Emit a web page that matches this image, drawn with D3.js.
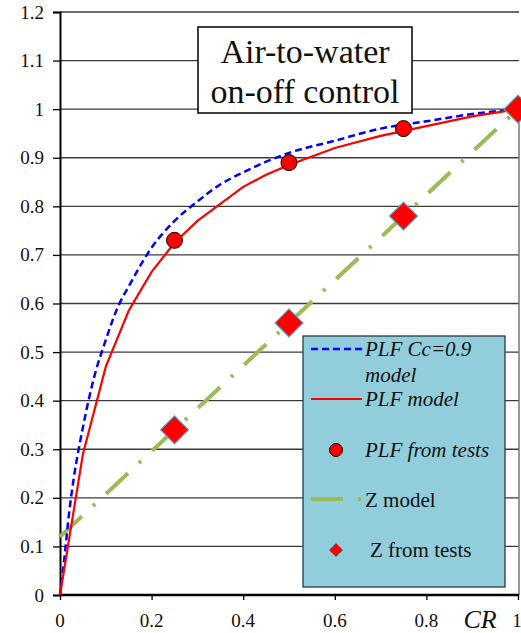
<!DOCTYPE html>
<html><head><meta charset="utf-8">
<script src="https://cdn.jsdelivr.net/npm/d3@7"></script>
</head><body style="margin:0">
<script>
// ---- data ----
const yTicks = [0,0.1,0.2,0.3,0.4,0.5,0.6,0.7,0.8,0.9,1,1.1,1.2];
const xTicks = [0,0.2,0.4,0.6,0.8,1];
const plfModelCR  = [0,0.05,0.1,0.15,0.2,0.25,0.3,0.35,0.4,0.45,0.5,0.6,0.7,0.8,0.9,1];
const plfModelVal = [0,0.29,0.47,0.585,0.665,0.725,0.77,0.805,0.84,0.865,0.885,0.92,0.945,0.965,0.985,1];
const plfCcCR  = [0,0.01,0.02,0.03,0.05,0.075,0.1,0.125,0.15,0.2,0.25,0.3,0.35,0.4,0.5,0.6,0.7,0.8,0.9,1];
const plfCcVal = [0,0.08,0.17,0.24,0.345,0.45,0.525,0.59,0.635,0.715,0.77,0.81,0.845,0.87,0.91,0.935,0.96,0.975,0.99,1];
const zModelCR  = [0,1];
const zModelVal = [0.12,1];
const testCR = [0.25,0.5,0.75,1];
const plfTests = [0.73,0.89,0.96,1];
const zTests = [0.34,0.56,0.78,1];
const titleLines = ["Air-to-water","on-off control"];
const legendLabels = ["PLF Cc=0.9","model","PLF model","PLF from tests","Z model","Z from tests"];

// ---- drawing ----
const W=521,H=633;
const FONT="Liberation Serif";
const svg=d3.select("body").append("svg").attr("width",W).attr("height",H)
  .style("display","block").attr("font-family",FONT);
const x=d3.scaleLinear().domain([0,1]).range([60,518]);
const y=d3.scaleLinear().domain([0,1.2]).range([595,12]);
const fmt=v=>String(+v.toFixed(1));
function txt(g,s,px,py,size,opts={}){
  const t=g.append("text").attr("x",px).attr("y",py)
    .style("font-family",d=>`"${FONT}", serif`).attr("font-size",size)
    .attr("text-anchor",opts.anchor||"start").attr("fill","#111");
  if(opts.italic) t.attr("font-style","italic");
  t.text(s);
  return t;
}

// gridlines
svg.append("g").selectAll("line").data(yTicks.filter(d=>d>0)).join("line")
  .attr("x1",x(0)).attr("x2",519).attr("y1",d=>y(d)).attr("y2",d=>y(d))
  .attr("stroke","#3a3a3a").attr("stroke-width",1.3);
// right border
svg.append("line").attr("x1",519).attr("x2",519).attr("y1",y(1)).attr("y2",y(0))
  .attr("stroke","#777").attr("stroke-width",1.5);

// y axis
const ya=svg.append("g").attr("transform",`translate(${x(0)},0)`)
  .call(d3.axisLeft(y).tickValues(yTicks).tickFormat("").tickSize(7));
ya.attr("font-family",null);
ya.select(".domain").attr("stroke","#000").attr("stroke-width",2);
ya.selectAll(".tick line").attr("stroke","#000").attr("stroke-width",1.3);
ya.selectAll(".tick text").remove();
yTicks.forEach(v=>txt(svg,fmt(v),44,y(v)+6.5,19,{anchor:"end"}));

// x axis
const xa=svg.append("g").attr("transform",`translate(0,${y(0)})`)
  .call(d3.axisBottom(x).tickValues(xTicks).tickFormat("").tickSize(5));
xa.attr("font-family",null);
xa.select(".domain").attr("stroke","#000").attr("stroke-width",2.5).attr("d",`M${x(0)},0H519`);
xa.selectAll(".tick line").attr("stroke","#000").attr("stroke-width",1.3);
xa.selectAll(".tick text").remove();
xTicks.forEach(v=>txt(svg,fmt(v),x(v)-(v===1?1:0),627,19,{anchor:"middle"}));
txt(svg,"CR",480,628,26,{anchor:"middle",italic:true});

// lines
const line=d3.line().x(d=>x(d[0])).y(d=>y(d[1]));
svg.append("path").datum(zModelCR.map((c,i)=>[c,zModelVal[i]])).attr("d",line)
  .attr("fill","none").attr("stroke","#9BBB59").attr("stroke-width",4).attr("stroke-dasharray","30,15,3,15");
svg.append("path").datum(plfCcCR.map((c,i)=>[c,plfCcVal[i]])).attr("d",d3.line().x(d=>x(d[0])).y(d=>y(d[1])).curve(d3.curveMonotoneX))
  .attr("fill","none").attr("stroke","#0000FF").attr("stroke-width",2.5).attr("stroke-dasharray","7,4");
svg.append("path").datum(plfModelCR.map((c,i)=>[c,plfModelVal[i]])).attr("d",line)
  .attr("fill","none").attr("stroke","#FF0000").attr("stroke-width",2.2);

// markers
const diamond=(cx,cy,r)=>`M${cx},${cy-r}L${cx+r},${cy}L${cx},${cy+r}L${cx-r},${cy}Z`;
svg.append("g").selectAll("circle").data(testCR).join("circle")
  .attr("cx",d=>x(d)).attr("cy",(d,i)=>y(plfTests[i])).attr("r",8)
  .attr("fill","#FF0000").attr("stroke","#000").attr("stroke-width",1);
svg.append("g").selectAll("path").data(testCR).join("path")
  .attr("d",(d,i)=>diamond(x(d),y(zTests[i]),14))
  .attr("fill","#FF0000").attr("stroke","#4BACC6").attr("stroke-width",1.2);

// title box
svg.append("rect").attr("x",198).attr("y",27).attr("width",214).attr("height",86)
  .attr("fill","#fff").attr("stroke","#000").attr("stroke-width",1.5);
titleLines.forEach((s,i)=>txt(svg,s,305,63+i*40,34,{anchor:"middle"}));

// legend
const lg=svg.append("g");
lg.append("rect").attr("x",303).attr("y",336).attr("width",202).attr("height",251)
  .attr("fill","#92CDDC").attr("stroke","#2b3a40").attr("stroke-width",1.3);
lg.append("line").attr("x1",311).attr("x2",362).attr("y1",349).attr("y2",349)
  .attr("stroke","#0000FF").attr("stroke-width",2.5).attr("stroke-dasharray","7,4");
lg.append("line").attr("x1",311).attr("x2",362).attr("y1",399).attr("y2",399)
  .attr("stroke","#FF0000").attr("stroke-width",2.2);
lg.append("circle").attr("cx",336).attr("cy",450).attr("r",6.5)
  .attr("fill","#FF0000").attr("stroke","#000").attr("stroke-width",1);
lg.append("line").attr("x1",311).attr("x2",362).attr("y1",499).attr("y2",499)
  .attr("stroke","#9BBB59").attr("stroke-width",4).attr("stroke-dasharray","32,15,3,15");
lg.append("path").attr("d",diamond(336,550,7))
  .attr("fill","#FF0000").attr("stroke","#4BACC6").attr("stroke-width",1);
const lpos=[[365,356,true],[365,382,true],[365,406,true],[365,457,true],[365,507,false],[370,557,false]];
legendLabels.forEach((s,i)=>txt(lg,s,lpos[i][0],lpos[i][1],21,{italic:lpos[i][2]}));
</script>
</body></html>
